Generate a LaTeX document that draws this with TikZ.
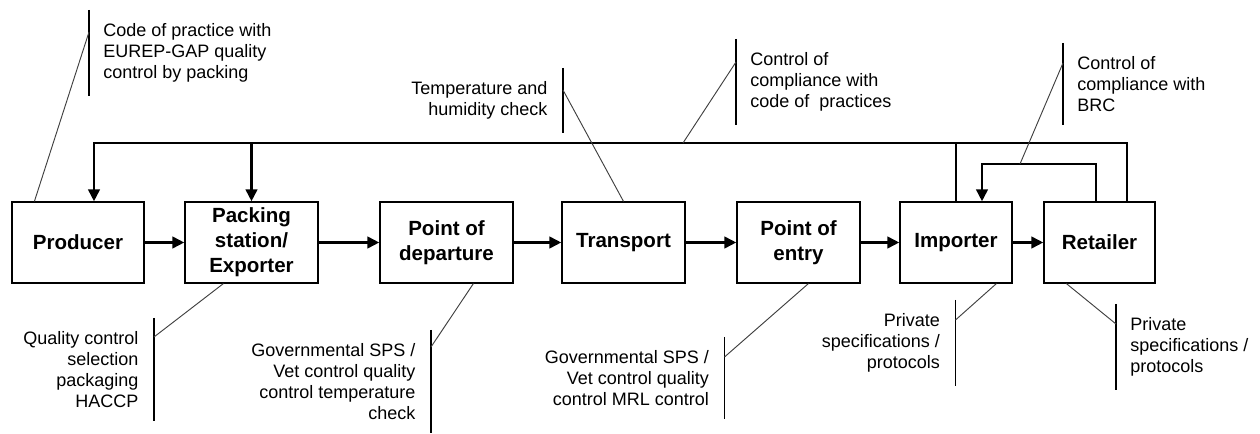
\documentclass[tikz,border=0pt]{standalone}
\usepackage{fontspec}
\setmainfont{Liberation Sans}
\usepackage{tikz}
\usetikzlibrary{arrows.meta,calc}

\begin{document}
\begin{tikzpicture}[x=0.75pt, y=-0.75pt,
  box/.style={draw, line width=0.9pt, minimum height=60.75pt, align=center, inner sep=2pt, font=\fontsize{15.4}{18.75}\selectfont\bfseries},
  flow/.style={line width=2.2pt, line join=miter, -{Triangle[length=9pt,width=8.5pt]}},
  bus/.style={line width=2.2pt, line join=miter},
  notel/.style={anchor=north west, align=left, inner xsep=10.5pt, inner ysep=10pt, font=\fontsize{13.5}{15.75}\selectfont},
  noter/.style={anchor=north east, align=right, inner xsep=11.5pt, inner ysep=10pt, font=\fontsize{13.5}{15.75}\selectfont},
  bar/.style={line width=0.9pt},
  pointer/.style={line width=0.7pt, black!75}]
\useasboundingbox (0,0) rectangle (1260,434);

% the chain
\node[box, minimum width=99pt] (prod) at (78,242.5) {Producer};
\node[box, minimum width=99.75pt] (pack) at (251.5,242.5) {Packing\\station/\\Exporter};
\node[box, minimum width=99.75pt] (dep) at (446.5,242.5) {Point of\\departure};
\node[box, minimum width=92.25pt] (trans) at (623.5,242.5) {Transport};
\node[box, minimum width=92.25pt] (entry) at (798.5,242.5) {Point of\\entry};
\node[box, minimum width=84pt] (imp) at (956,242.5) {Importer};
\node[box, minimum width=83.25pt] (ret) at (1099.5,242.5) {Retailer};

\draw[flow] (prod) -- (pack);
\draw[flow] (pack) -- (dep);
\draw[flow] (dep) -- (trans);
\draw[flow] (trans) -- (entry);
\draw[flow] (entry) -- (imp);
\draw[flow] (imp) -- (ret);

% feedback lines
\coordinate (busL) at (94,143);
\coordinate (busR) at (1127,143);
\coordinate (loopR) at (1096,164);
\coordinate (loopL) at (982,164);
\draw[flow] (ret.north -| busR) -- (busR) -- (busL) -- (prod.north -| busL);
\draw[flow] (pack.north |- busL) -- (pack.north);
\draw[bus] (imp.north) -- (imp.north |- busL);
\draw[flow] (ret.north -| loopR) -- (loopR) -- (loopL) -- (imp.north -| loopL);

% notes
\node[notel] (cp) at (89,10) {Code of practice with\\EUREP-GAP quality\\control by packing};
\node[noter] (th) at (563,68) {Temperature and\\humidity check};
\node[notel] (cc) at (736,39) {Control of\\compliance with\\code of~ practices};
\node[notel] (brc) at (1063,43) {Control of\\compliance with\\BRC};
\node[noter] (qc) at (154,318) {Quality control\\selection\\packaging\\HACCP};
\node[noter] (gd) at (431,330) {Governmental SPS /\\Vet control quality\\control temperature\\check};
\node[noter] (ge) at (724.5,337) {Governmental SPS /\\Vet control quality\\control MRL control};
\node[noter] (pi) at (955.5,300) {Private\\specifications /\\protocols};
\node[notel] (pr) at (1116,304) {Private\\specifications /\\protocols};

\foreach \n in {cp,cc,brc,pr} \draw[bar] (\n.north west) -- (\n.south west);
\foreach \n in {th,qc,gd,ge,pi} \draw[bar] (\n.north east) -- (\n.south east);

% pointers
\coordinate (ccfoot) at (683,143);
\coordinate (brcfoot) at (1020,164);
\draw[pointer] ($(cp.north west)+(0,22)$) -- ($(prod.north west)+(23,0)$);
\draw[pointer] ($(th.north east)+(0,22)$) -- (trans.north);
\draw[pointer] ($(cc.north west)+(0,23)$) -- (ccfoot);
\draw[pointer] ($(brc.north west)+(0,20)$) -- (brcfoot);
\draw[pointer] ($(qc.north east)+(0,19)$) -- ($(pack.south west)+(39,0)$);
\draw[pointer] ($(gd.north east)+(0,17)$) -- ($(dep.south west)+(94,0)$);
\draw[pointer] ($(ge.north east)+(0,20)$) -- ($(entry.south west)+(72,0)$);
\draw[pointer] ($(pi.north east)+(0,20)$) -- ($(imp.south west)+(97,0)$);
\draw[pointer] ($(pr.north west)+(0,20)$) -- ($(ret.south west)+(23,0)$);
\end{tikzpicture}
\end{document}
